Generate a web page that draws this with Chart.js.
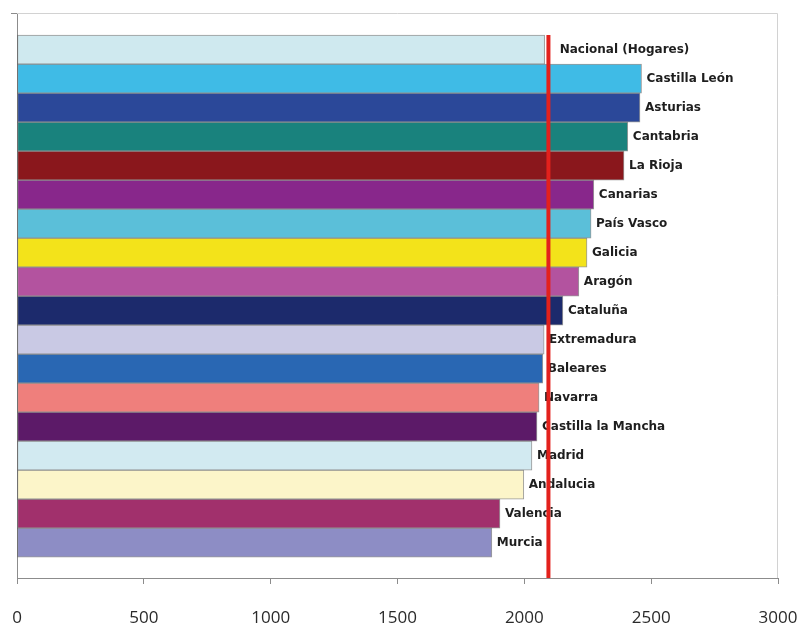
<!DOCTYPE html>
<html>
<head>
<meta charset="utf-8">
<script src="https://cdn.jsdelivr.net/npm/chart.js@4"></script>
<style>
  html, body { margin: 0; padding: 0; background: #ffffff; }
  #wrap { width: 803px; height: 625px; position: relative; }
</style>
</head>
<body>
<div id="wrap"><canvas id="gastoChart"></canvas></div>
<script>
// Data comunidades (dibujadas de arriba hacia abajo)
const regiones = [
    'Nacional (Hogares)', 'Castilla León', 'Asturias', 'Cantabria', 'La Rioja',
    'Canarias', 'País Vasco', 'Galicia', 'Aragón', 'Cataluña', 'Extremadura',
    'Baleares', 'Navarra', 'Castilla la Mancha', 'Madrid', 'Andalucia',
    'Valencia', 'Murcia'
];
const valores = [
    2080, 2462, 2456, 2408, 2393,
    2274, 2263, 2247, 2215, 2152, 2078,
    2073, 2058, 2050, 2030, 1998,
    1904, 1872
];
const colores = [
    '#cfe9ef', '#3fbbe6', '#2b4899', '#19827d', '#8a171c',
    '#88278b', '#5bbfd9', '#f3e31a', '#b3539f', '#1c2a6c', '#c9c9e4',
    '#2967b3', '#ef7f7c', '#5c1a68', '#d2eaf1', '#fcf5c9',
    '#a1306c', '#8d8dc5'
];
const mediaNacional = 2095;      // linea roja vertical
const ticksX = [0, 500, 1000, 1500, 2000, 2500, 3000];

// Plugin: marco, etiquetas al final de cada barra y la linea roja
const extrasPlugin = {
    id: 'extras',
    beforeDatasetsDraw(chart) {
        const { ctx, chartArea: a } = chart;
        ctx.save();
        ctx.strokeStyle = '#d2d2d2';
        ctx.lineWidth = 1;
        ctx.beginPath();
        ctx.moveTo(a.left, a.top + 0.5);
        ctx.lineTo(a.right - 0.5, a.top + 0.5);
        ctx.lineTo(a.right - 0.5, a.bottom);
        ctx.stroke();
        // pequeña marca arriba del eje vertical
        ctx.strokeStyle = '#8c8c8c';
        ctx.beginPath();
        ctx.moveTo(a.left - 6, a.top + 0.5);
        ctx.lineTo(a.left, a.top + 0.5);
        ctx.stroke();
        ctx.restore();
    },
    afterDatasetsDraw(chart) {
        const { ctx, chartArea: a, scales } = chart;
        const meta = chart.getDatasetMeta(0);
        ctx.save();
        ctx.font = 'bold 12px "DejaVu Sans"';
        ctx.fillStyle = '#1e1e1e';
        ctx.textBaseline = 'middle';
        ctx.textAlign = 'left';
        meta.data.forEach((bar, i) => {
            const dx = i === 0 ? 15 : 5; // la etiqueta nacional va algo mas separada
            ctx.fillText(regiones[i], bar.x + dx, bar.y);
        });

        // linea de la media nacional, por encima de las etiquetas
        const x = scales.x.getPixelForValue(mediaNacional);
        const yTop = scales.y.getPixelForValue(-0.5);
        ctx.strokeStyle = '#e3211c';
        ctx.lineWidth = 4;
        ctx.beginPath();
        ctx.moveTo(x, yTop);
        ctx.lineTo(x, a.bottom);
        ctx.stroke();
        ctx.restore();
    }
};

function dibujar() {
    const ctx = document.getElementById('gastoChart').getContext('2d');
    new Chart(ctx, {
        type: 'bar',
        data: {
            datasets: [{
                data: valores.map((v, i) => ({ x: v, y: i })),
                backgroundColor: colores,
                borderColor: 'rgba(70,70,70,0.55)',
                borderWidth: 1,
                borderSkipped: false,
                categoryPercentage: 1,
                barPercentage: 1
            }]
        },
        options: {
            indexAxis: 'y',
            responsive: true,
            maintainAspectRatio: false,
            animation: false,
            layout: { padding: { top: 13, left: 17, right: 25, bottom: 0 } },
            plugins: {
                legend: { display: false },
                tooltip: { enabled: false }
            },
            scales: {
                x: {
                    type: 'linear',
                    min: 0,
                    max: 3000,
                    afterBuildTicks: (s) => { s.ticks = ticksX.map(v => ({ value: v })); },
                    afterFit: (s) => { s.height = 47; s.paddingLeft = 0; s.paddingRight = 0; },
                    grid: { display: true, drawOnChartArea: false, tickLength: 6, color: '#8c8c8c' },
                    border: { display: true, color: '#8c8c8c', width: 1 },
                    ticks: {
                        padding: 24,
                        color: '#2a2a2a',
                        font: { family: '"Open Sans"', size: 17 },
                        maxRotation: 0,
                        callback: (v) => String(v)
                    }
                },
                y: {
                    type: 'linear',
                    reverse: true,
                    offset: false,
                    min: -1.26,
                    max: regiones.length - 1 + 1.22,
                    grid: { display: false, drawTicks: false },
                    border: { display: true, color: '#8c8c8c', width: 1 },
                    ticks: { display: false }
                }
            }
        },
        plugins: [extrasPlugin]
    });
}

window.onload = dibujar;
</script>
</body>
</html>
